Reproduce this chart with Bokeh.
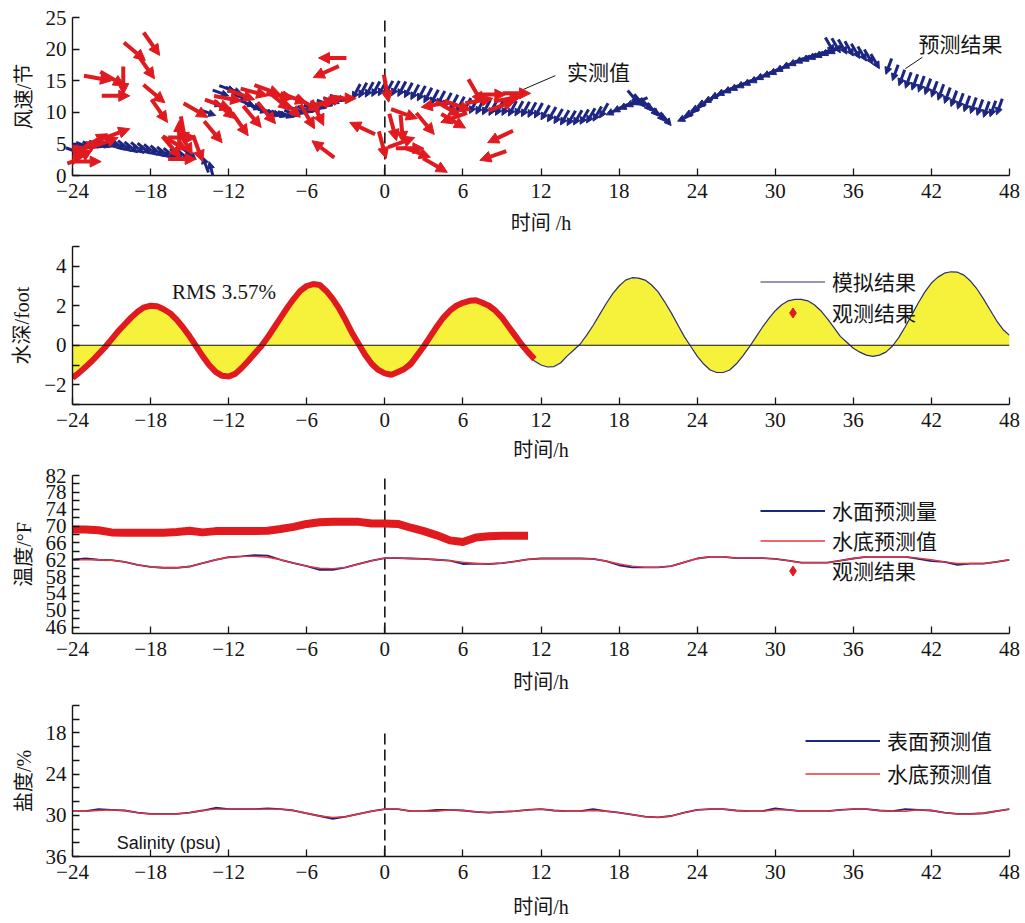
import numpy as np
from bokeh.plotting import figure
from bokeh.layouts import column
from bokeh.models import (Range1d, FixedTicker, Arrow, NormalHead, ColumnDataSource,
                          Label, Legend, LegendItem, Span, CustomJSTickFormatter)
from bokeh.embed import file_html
from bokeh.resources import INLINE

# ------------------------------------------------------------------ data
x_ticks = [-24, -18, -12, -6, 0, 6, 12, 18, 24, 30, 36, 42, 48]

# panel 1 : wind (knots); predicted every 0.5 h from -24 to 47
pred_t = np.arange(-24.0, 47.5, 0.5)
pred_spd = [4.0, 4.1, 4.2, 4.3, 4.4, 4.5, 4.5,
            4.3, 4.0, 3.8, 3.6, 3.5, 3.4, 3.2, 3.0, 2.8, 2.6, 2.5, 2.4, 2.5,
            3.0, 2.2,
            9.5, 11.0, 12.6, 13.3, 13.0, 12.0, 11.0, 10.5, 10.0, 9.6, 9.4, 9.3, 9.2, 9.4,
            9.8, 10.0, 10.2, 10.6, 11.0, 11.4, 11.8,
            12.1, 12.3, 12.4, 12.5, 12.6, 12.6, 12.6, 12.5, 12.3, 12.0, 11.8, 11.5, 11.2,
            11.0, 10.7, 10.4, 10.1, 9.9, 9.8, 9.7, 9.6, 9.5, 9.5, 9.5, 9.4, 9.4, 9.3, 9.2, 9.1,
            8.8, 8.5, 8.2, 8.0, 7.9, 8.0, 8.1, 8.3, 8.6, 9.1,
            9.6, 10.1, 10.5, 10.9, 11.2,
            11.4, 10.8, 10.2, 9.4, 8.6, 7.9,
            8.6, 9.4, 10.2, 11.0, 11.6, 12.2, 12.7, 13.1, 13.5, 13.9, 14.3, 14.7, 15.2, 15.6,
            16.0, 16.5, 17.0, 17.4, 17.8, 18.1, 18.4, 18.7, 19.0, 19.3,
            19.5, 19.4, 19.2, 18.9, 18.5, 18.1, 17.6, 16.9,
            16.0, 15.0, 14.2, 13.8, 13.5, 13.2, 12.8, 12.4, 11.9, 11.4, 10.9, 10.5, 10.1,
            9.8, 9.5, 9.2, 9.3, 9.6]
# direction the stick comes from (degrees, counter-clockwise from +x)
pred_dir = [160, 160, 160, 160, 160, 160, 160,
            140, 140, 140, 140, 140, 140, 140, 140, 140, 140, 140, 140, 140,
            -70, -75,
            160, 160, 160, 160, 160, 160, 160, 160, 160, 160, 160, 160, 160, 160,
            160, 160, 160, 160, 160, 160, 160,
            62, 62, 62, 62, 62, 62, 62, 62, 62, 62, 62, 62, 62,
            62, 62, 62, 62, 62, 62, 62, 62, 62, 62, 62, 62, 62, 62, 62, 62,
            60, 60, 60, 60, 60, 60, 60, 60, 60, 60,
            25, 25, 25, 25, 25,
            130, 130, 130, 130, 130, 130,
            25, 25, 25, 25, 25, 25, 25, 25, 25, 25, 25, 25, 25, 25,
            25, 25, 25, 25, 25, 25, 25, 25, 25, 25,
            120, 120, 120, 120, 120, 120, 120, 120,
            70, 70, 70, 70, 70, 70, 70, 70, 70, 70, 70, 70, 70,
            70, 70, 70, 70, 70]

# observed wind arrows (head position and direction of tail)
obs_t = [-23.6, -23.2, -22.5, -22.0, -21.3, -20.5, -19.6, -21.8, -23.0,
         -20.0, -20.1, -19.6, -21.0, -18.4, -17.3, -17.7, -16.9, -16.7,
         -15.7, -15.8, -14.5, -15.2, -14.5, -14.8, -15.3, -14.0, -12.5, -13.6,
         -11.8, -11.0, -10.5, -10.0, -9.5, -9.0, -8.4, -8.0, -7.3, -7.0, -6.5, -6.0, -5.4, -5.0, -11.5,
         -5.1, -5.5, -5.6, -2.7, -3.2, -2.2, -3.8, -4.7,
         0.1, 0.9, 1.4, 0.3, 2.3, 3.0, 3.5, 4.8, 2.5, 3.8, 4.3, 2.8,
         5.8, 6.6, 7.9, 7.3, 7.5, 8.3, 9.3, 10.0, 11.2, 10.5, 6.2]
obs_spd = [2.5, 4.6, 4.0, 5.3, 6.6, 6.0, 7.4, 2.2, 3.3,
           14.2, 12.8, 12.6, 15.0, 18.2, 19.0, 15.3, 11.5, 8.4,
           2.8, 8.7, 6.0, 4.0, 2.6, 3.3, 5.0, 2.2, 5.2, 9.2,
           10.5, 11.8, 6.3, 12.0, 7.6, 12.6, 8.2, 12.8, 10.4, 12.2, 9.2, 11.5, 7.4, 10.2, 9.0,
           18.6, 15.5, 5.5, 8.4, 12.5, 12.2, 11.8, 7.9,
           2.7, 5.5, 5.2, 11.6, 6.0, 4.3, 2.9, 0.5, 9.0, 6.5, 8.4, 10.8,
           9.5, 10.3, 5.2, 2.4, 11.4, 12.2, 12.8, 11.8, 13.0, 12.5, 7.5]
obs_dir = [200, 200, 210, 205, 210, 200, 200, 180, 190,
           150, 90, 180, 170, 140, 125, 125, 140, 125,
           130, -90, 180, 150, 180, 120, 100, 110, 130, 150,
           160, 170, 125, 160, 130, 165, 130, 160, 140, 170, 135, 160, 120, 150, 140,
           0, 24, -37, -25, 200, 180, 190, 115,
           105, 105, 95, 100, 200, 180, 160, 150, 160, 130, 20, 10,
           150, 160, 25, 19, 120, 190, 180, 200, 180, 190, 150]

# panel 2 : water depth (ft)
tide_t = np.arange(-24.0, 48.5, 0.5)
tide_model = [-1.50, -1.30, -0.98, -0.70, -0.40, -0.05, 0.30, 0.65, 1.00, 1.35, 1.65, 1.90,
              2.02, 2.00, 1.85, 1.60, 1.25, 0.85, 0.40, -0.10, -0.60, -1.00, -1.35, -1.55,
              -1.55, -1.40, -1.15, -0.80, -0.45, -0.10, 0.35, 0.85, 1.35, 1.85, 2.30, 2.70,
              2.95, 3.05, 2.95, 2.65, 2.25, 1.75, 1.15, 0.55, 0.05, -0.45, -0.85, -1.15,
              -1.32, -1.38, -1.30, -1.10, -0.75, -0.35, 0.05, 0.50, 0.95, 1.35, 1.70, 1.95,
              2.15, 2.25, 2.28, 2.20, 2.00, 1.70, 1.30, 0.85, 0.40, -0.05, -0.45, -0.80,
              -1.00, -1.10, -1.08, -0.90, -0.55, -0.25, 0.05, 0.50, 1.00, 1.55, 2.10, 2.60,
              3.00, 3.30, 3.42, 3.40, 3.30, 3.05, 2.70, 2.20, 1.65, 1.05, 0.45, -0.05,
              -0.55, -0.95, -1.25, -1.38, -1.38, -1.25, -0.95, -0.55, -0.10, 0.40, 0.90, 1.35,
              1.75, 2.05, 2.25, 2.32, 2.32, 2.25, 2.05, 1.75, 1.35, 0.90, 0.45, 0.15,
              -0.15, -0.35, -0.50, -0.56, -0.50, -0.35, -0.05, 0.40, 0.95, 1.55, 2.15, 2.70,
              3.15, 3.45, 3.65, 3.72, 3.70, 3.55, 3.25, 2.85, 2.35, 1.80, 1.25, 0.80,
              0.50]
tide_obs_t = np.arange(-24.0, 12.0, 0.5)
tide_obs = [-1.65, -1.40, -1.10, -0.80, -0.45, -0.10, 0.30, 0.70, 1.05, 1.40, 1.70, 1.92,
            2.00, 1.98, 1.82, 1.62, 1.30, 0.90, 0.45, -0.05, -0.55, -1.00, -1.35, -1.55,
            -1.58, -1.45, -1.15, -0.80, -0.42, -0.05, 0.40, 0.90, 1.40, 1.90, 2.35, 2.75,
            3.00, 3.10, 3.05, 2.75, 2.35, 1.85, 1.25, 0.60, 0.05, -0.50, -0.95, -1.25,
            -1.42, -1.50, -1.35, -1.20, -0.95, -0.50, -0.05, 0.45, 0.95, 1.40, 1.75, 2.00,
            2.15, 2.25, 2.28, 2.15, 2.00, 1.75, 1.40, 0.95, 0.50, 0.05, -0.35, -0.70]

# panel 3 : temperature (F)
temp_obs_t = np.arange(-24, 12, 1)
temp_obs = [69.2, 69.2, 69.0, 68.5, 68.4, 68.4, 68.4, 68.4, 68.6, 68.9, 68.5, 68.8,
            68.8, 68.8, 68.8, 68.9, 69.3, 69.8, 70.5, 70.9, 71.0, 71.0, 71.0, 70.6,
            70.6, 70.5, 69.6, 68.8, 67.8, 66.6, 66.2, 67.3, 67.6, 67.7, 67.7, 67.7]
hour_t = np.arange(-24, 49, 1)
temp_bottom = [62.0, 62.0, 62.0, 61.9, 61.5, 60.8, 60.3, 60.1, 60.1, 60.4, 61.2, 62.0,
               62.6, 62.8, 62.8, 62.6, 62.0, 61.2, 60.5, 60.0, 59.9, 60.2, 61.0, 61.8,
               62.4, 62.4, 62.3, 62.2, 62.0, 61.8, 61.4, 61.1, 61.0, 61.2, 61.6, 62.1,
               62.3, 62.3, 62.3, 62.3, 62.2, 61.7, 61.0, 60.5, 60.2, 60.2, 60.5, 61.4,
               62.3, 62.7, 62.7, 62.4, 62.4, 62.4, 62.2, 61.8, 61.3, 61.3, 61.3, 61.8,
               62.3, 62.7, 62.7, 62.7, 62.7, 62.4, 62.0, 61.5, 61.1, 61.1, 61.1, 61.5,
               62.0]
temp_surface = [62.0, 62.3, 62.0, 61.9, 61.5, 60.8, 60.3, 60.1, 60.1, 60.4, 61.2, 62.0,
                62.6, 62.8, 63.1, 63.0, 62.0, 61.2, 60.5, 59.6, 59.6, 60.2, 61.0, 61.8,
                62.4, 62.4, 62.3, 62.2, 62.0, 61.8, 61.0, 61.1, 61.0, 61.2, 61.6, 62.1,
                62.3, 62.3, 62.3, 62.3, 62.2, 61.7, 60.7, 60.2, 60.2, 60.2, 60.5, 61.4,
                62.3, 62.7, 62.7, 62.4, 62.4, 62.4, 62.2, 61.8, 61.3, 61.3, 61.3, 61.8,
                62.3, 62.7, 62.7, 62.7, 62.7, 62.2, 61.7, 61.5, 60.8, 61.1, 61.1, 61.5,
                62.0]

# panel 4 : salinity (psu)
sal_bottom = [29.4, 29.4, 29.3, 29.2, 29.3, 29.6, 29.8, 29.8, 29.8, 29.6, 29.3, 29.1,
              29.1, 29.1, 29.1, 29.1, 29.1, 29.3, 29.7, 30.1, 30.3, 30.2, 29.8, 29.4,
              29.1, 29.1, 29.4, 29.4, 29.4, 29.2, 29.3, 29.5, 29.6, 29.5, 29.4, 29.2,
              29.1, 29.3, 29.4, 29.4, 29.3, 29.4, 29.6, 29.9, 30.2, 30.3, 30.1, 29.6,
              29.2, 29.1, 29.1, 29.3, 29.4, 29.4, 29.2, 29.2, 29.4, 29.4, 29.4, 29.2,
              29.1, 29.1, 29.3, 29.4, 29.4, 29.2, 29.3, 29.6, 29.8, 29.8, 29.7, 29.4,
              29.1]
sal_surface = [29.4, 29.4, 29.1, 29.2, 29.3, 29.6, 29.8, 29.8, 29.8, 29.6, 29.3, 28.9,
               29.1, 29.1, 29.1, 29.0, 29.1, 29.3, 29.7, 30.1, 30.5, 30.2, 29.8, 29.4,
               29.1, 29.1, 29.4, 29.4, 29.2, 29.2, 29.3, 29.5, 29.6, 29.5, 29.4, 29.2,
               29.1, 29.3, 29.4, 29.4, 29.1, 29.4, 29.6, 29.9, 30.2, 30.3, 30.1, 29.6,
               29.2, 29.1, 29.1, 29.3, 29.4, 29.4, 29.0, 29.2, 29.4, 29.4, 29.4, 29.2,
               29.1, 29.1, 29.3, 29.4, 29.1, 29.2, 29.3, 29.6, 29.8, 29.8, 29.7, 29.4,
               29.1]

# ------------------------------------------------------------------ style
BLUE = "#1c2580"
RED = "#e01a1f"
RED_THIN = "#e8343a"
YELLOW = "#f6f23c"
INK = "#151515"
SERIF = "Liberation Serif"
MIX = "Liberation Serif, Noto Sans CJK SC"
CJK = "Noto Sans CJK SC"
FS = "21px"
FL_S = "20px"

W = 1025
FL, FR = 72, 16
FW = W - FL - FR

minus_fmt = CustomJSTickFormatter(
    code="return tick < 0 ? '\u2212' + Math.abs(tick) : String(tick);")


def make_fig(top, fh, bottom, yr, ylabel, xlabel, ticks, minor=None, xl_so=8, xa_so=4):
    p = figure(width=W, height=top + fh + bottom, x_range=Range1d(-24, 48), y_range=yr,
               output_backend="svg", toolbar_location=None,
               min_border_left=FL, min_border_right=FR,
               min_border_top=top, min_border_bottom=bottom)
    p.outline_line_color = None
    p.xgrid.grid_line_color = None
    p.ygrid.grid_line_color = None
    for ax in (p.xaxis[0], p.yaxis[0]):
        ax.axis_line_color = INK
        ax.axis_line_width = 1.4
        ax.major_tick_in = 7
        ax.major_tick_out = 0
        ax.minor_tick_in = 7
        ax.minor_tick_out = 0
        ax.major_tick_line_color = INK
        ax.major_tick_line_width = 1.3
        ax.minor_tick_line_color = INK
        ax.minor_tick_line_width = 1.3
        ax.major_label_text_font = SERIF
        ax.major_label_text_font_size = FS
        ax.major_label_text_color = INK
        ax.axis_label_text_font = MIX
        ax.axis_label_text_font_size = FL_S
        ax.axis_label_text_font_style = "normal"
        ax.axis_label_text_color = INK
        ax.formatter = minus_fmt
    p.xaxis.ticker = FixedTicker(ticks=x_ticks, minor_ticks=[])
    p.xaxis.major_label_standoff = xl_so
    p.xaxis.axis_label_standoff = xa_so
    p.xaxis.axis_label = xlabel
    p.yaxis.ticker = FixedTicker(ticks=ticks, minor_ticks=minor or [])
    p.yaxis.major_label_standoff = 6
    p.yaxis.axis_label_standoff = 8
    p.yaxis.axis_label = ylabel
    return p


def legend(p, items, loc, gw, spacing):
    lg = Legend(items=[LegendItem(label=l, renderers=[r]) for l, r in items],
                location=loc, orientation="vertical", border_line_color=None,
                background_fill_alpha=0, glyph_width=gw, glyph_height=25, label_height=25,
                spacing=spacing, padding=0, margin=0, label_standoff=7,
                label_text_font=CJK, label_text_font_size=FS, label_text_color=INK)
    p.add_layout(lg)


# ------------------------------------------------------------------ panel 1
FH1 = 158
p1 = make_fig(17, FH1, 62, Range1d(0, 25), "风速/节", "时间 /h", [0, 5, 10, 15, 20, 25],
              xa_so=11)
PXH = FW / 72.0
PXK = FH1 / 25.0
p1.segment(x0=[0], y0=[0], x1=[0], y1=[24.6], line_color=INK, line_width=1.6,
           line_dash="11 5")

pt = np.asarray(pred_t, dtype=float)
ps = np.asarray(pred_spd, dtype=float)
pa = np.radians(np.asarray(pred_dir, dtype=float))
LB = 17
src_b = ColumnDataSource(dict(xs=pt + LB * np.cos(pa) / PXH, ys=ps + LB * np.sin(pa) / PXK,
                              xe=pt, ye=ps))
p1.add_layout(Arrow(end=NormalHead(size=7, fill_color=BLUE, line_color=BLUE, line_width=1),
                    x_start="xs", y_start="ys", x_end="xe", y_end="ye", source=src_b,
                    line_color=BLUE, line_width=3))

ot = np.asarray(obs_t, dtype=float)
osp = np.asarray(obs_spd, dtype=float)
oa = np.radians(np.asarray(obs_dir, dtype=float))
LR = 28
src_r = ColumnDataSource(dict(xs=ot + LR * np.cos(oa) / PXH, ys=osp + LR * np.sin(oa) / PXK,
                              xe=ot, ye=osp))
p1.add_layout(Arrow(end=NormalHead(size=11, fill_color=RED, line_color=RED, line_width=1),
                    x_start="xs", y_start="ys", x_end="xe", y_end="ye", source=src_r,
                    line_color=RED, line_width=4))

p1.segment(x0=[13.1], y0=[15.8], x1=[10.4], y1=[13.4], line_color=INK, line_width=1)
p1.segment(x0=[41.3], y0=[18.7], x1=[40.0], y1=[16.9], line_color=INK, line_width=1)
p1.add_layout(Label(x=14.0, y=16.6, text="实测值", text_font=CJK, text_font_size=FS,
                    text_color=INK, text_baseline="middle"))
p1.add_layout(Label(x=41.0, y=20.9, text="预测结果", text_font=CJK, text_font_size=FS,
                    text_color=INK, text_baseline="middle"))

# ------------------------------------------------------------------ panel 2
p2 = make_fig(9, 158, 59, Range1d(-3, 5), "水深/foot", "时间/h", [-2, 0, 2, 4],
              minor=[-3, -1, 1, 3, 5], xa_so=9)
p2.varea(x=tide_t, y1=0, y2=tide_model, fill_color=YELLOW)
p2.add_layout(Span(location=0, dimension="width", line_color=INK, line_width=1.2))
r_model = p2.line(tide_t, tide_model, line_color="#2a2f6a", line_width=1.2)
p2.line(tide_obs_t, tide_obs, line_color=RED, line_width=6)
r_dia2 = p2.scatter(x=[np.nan], y=[np.nan], marker="diamond", size=10,
                    fill_color=RED, line_color=RED)
p2.add_layout(Label(x=-16.35, y=2.68, text="RMS 3.57%", text_font=SERIF, text_font_size=FS,
                    text_color=INK, text_baseline="middle"))
legend(p2, [("模拟结果", r_model), ("观测结果", r_dia2)], (688, 77), 65, 1)

# ------------------------------------------------------------------ panel 3
p3 = make_fig(12, 158, 63, Range1d(44.5, 82), "温度/°F", "时间/h",
              [46, 50, 54, 58, 62, 66, 70, 74, 78, 82],
              minor=[48, 52, 56, 60, 64, 68, 72, 76, 80], xa_so=12)
p3.segment(x0=[0], y0=[44.5], x1=[0], y1=[81.6], line_color=INK, line_width=1.6,
           line_dash="11 5")
r_ts = p3.line(hour_t, temp_surface, line_color=BLUE, line_width=1.8)
r_tb = p3.line(hour_t, temp_bottom, line_color=RED_THIN, line_width=1.4)
p3.line(temp_obs_t, temp_obs, line_color=RED, line_width=8)
r_dia3 = p3.scatter(x=[np.nan], y=[np.nan], marker="diamond", size=10,
                    fill_color=RED, line_color=RED)
legend(p3, [("水面预测量", r_ts), ("水底预测值", r_tb), ("观测结果", r_dia3)], (688, 48), 65, 0)

# ------------------------------------------------------------------ panel 4
p4 = make_fig(9, 151, 66, Range1d(36, 14), "盐度/%", "时间/h", [18, 24, 30, 36],
              minor=[14, 16, 20, 22, 26, 28, 32, 34], xl_so=8, xa_so=14)
p4.segment(x0=[0], y0=[36], x1=[0], y1=[18], line_color=INK, line_width=1.6,
           line_dash="11 5")
r_ss = p4.line(hour_t, sal_surface, line_color=BLUE, line_width=1.8)
r_sb = p4.line(hour_t, sal_bottom, line_color=RED_THIN, line_width=1.4)
p4.add_layout(Label(x=-20.6, y=34.0, text="Salinity (psu)", text_font="Liberation Sans",
                    text_font_size="18px", text_color=INK, text_baseline="middle"))
legend(p4, [("表面预测值", r_ss), ("水底预测值", r_sb)], (733, 68), 75, 3)

layout = column(p1, p2, p3, p4)
open("out.html", "w").write(file_html(layout, INLINE))
